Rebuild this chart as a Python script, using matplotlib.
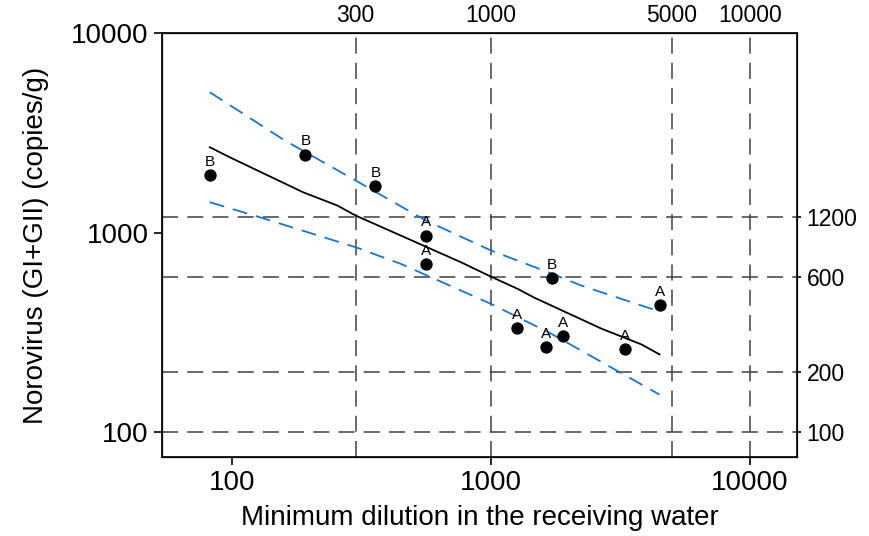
import numpy as np
import matplotlib
matplotlib.use("Agg")
import matplotlib.pyplot as plt
from matplotlib.ticker import FixedLocator, NullLocator, FixedFormatter

plt.rcParams['font.family'] = ['Liberation Sans', 'DejaVu Sans']

# observed samples: minimum dilution, norovirus copies/g, site class
dilution = [82, 192, 358, 561, 561, 1722, 4486, 1265, 1630, 1904, 3297]
norovirus = [1945, 2460, 1714, 966, 697, 590, 434, 331, 266, 302, 261]
site = ['B', 'B', 'B', 'A', 'A', 'B', 'A', 'A', 'A', 'A', 'A']

# fitted regression line
fit_x = [82, 98, 188, 255, 300, 765, 1000, 1268, 1468, 2669, 3811, 4477]
fit_y = [2677, 2383, 1592, 1366, 1217, 710, 601, 522, 472, 330, 275, 245]

# confidence bands
upper_x = [82, 160, 300, 560, 1000, 1710, 2235, 4250]
upper_y = [5050, 2890, 1823, 1149, 813, 624, 542, 411]
lower_x = [82, 128, 300, 448, 1000, 1710, 4477]
lower_y = [1419, 1193, 844, 697, 439, 311, 154]

# reference lines
vlines = [300, 1000, 5000, 10000]
hlines = [1200, 600, 200, 100]
x_ticks = [100, 1000, 10000]
y_ticks = [100, 1000, 10000]

fig = plt.figure(figsize=(8.69, 5.36), dpi=100)
ax = fig.add_axes([0.1864, 0.1474, 0.9171 - 0.1864, 0.9384 - 0.1474])
ax.set_xscale('log')
ax.set_yscale('log')
ax.set_xlim(53.6, 15200)
ax.set_ylim(75, 10000)

grid_col = '#404040'
for v in vlines:
    ax.axvline(v, color=grid_col, lw=1.1, dashes=(10.5, 6), zorder=1)
for h in hlines:
    ax.axhline(h, color=grid_col, lw=1.1, dashes=(10.5, 6), zorder=1)

ax.plot(fit_x, fit_y, color='black', lw=1.3, zorder=3)
blue = '#1874d2'
ax.plot(upper_x, upper_y, color=blue, lw=1.3, dashes=(8.3, 5), zorder=3)
ax.plot(lower_x, lower_y, color=blue, lw=1.3, dashes=(8.3, 5), zorder=3)

ax.scatter(dilution, norovirus, s=62, color='black', zorder=4)
for xv, yv, lab in zip(dilution, norovirus, site):
    ax.annotate(lab, (xv, yv), xytext=(0, 4.5), textcoords='offset points',
                ha='center', va='bottom', fontsize=11, zorder=5)

ax.xaxis.set_major_locator(FixedLocator(x_ticks))
ax.xaxis.set_major_formatter(FixedFormatter([str(t) for t in x_ticks]))
ax.xaxis.set_minor_locator(NullLocator())
ax.yaxis.set_major_locator(FixedLocator(y_ticks))
ax.yaxis.set_major_formatter(FixedFormatter([str(t) for t in y_ticks]))
ax.yaxis.set_minor_locator(NullLocator())
ax.tick_params(axis='both', which='major', labelsize=20, length=6, width=1.2, direction='out')

for sp in ax.spines.values():
    sp.set_linewidth(1.2)

ax.set_xlabel('Minimum dilution in the receiving water', fontsize=20, labelpad=6)
ax.set_ylabel('Norovirus (GI+GII) (copies/g)', fontsize=20, labelpad=16)

# secondary labels for the reference lines
top = ax.twiny()
top.set_xscale('log')
top.set_xlim(ax.get_xlim())
top.xaxis.set_major_locator(FixedLocator(vlines))
top.xaxis.set_major_formatter(FixedFormatter([str(v) for v in vlines]))
top.xaxis.set_minor_locator(NullLocator())
top.tick_params(axis='x', length=0, labelsize=16.5, pad=4)

right = ax.twinx()
right.set_yscale('log')
right.set_ylim(ax.get_ylim())
right.yaxis.set_major_locator(FixedLocator(hlines))
right.yaxis.set_major_formatter(FixedFormatter([str(h) for h in hlines]))
right.yaxis.set_minor_locator(NullLocator())
right.tick_params(axis='y', length=3, width=1.2, labelsize=16.5, pad=4)

fig.savefig('out.png', dpi=100)
